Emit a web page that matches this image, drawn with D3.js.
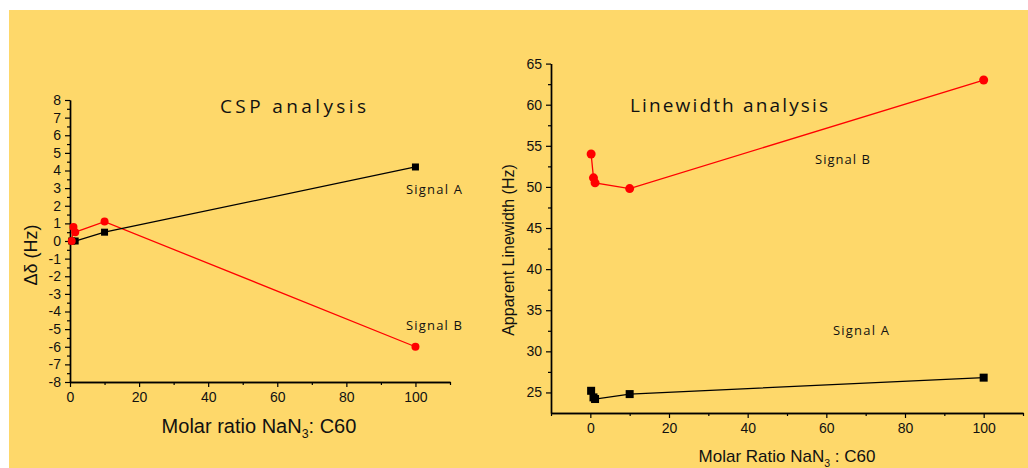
<!DOCTYPE html>
<html>
<head>
<meta charset="utf-8">
<script src="https://cdn.jsdelivr.net/npm/d3@7"></script>
<style>
  body { margin: 0; background: #fff; }
  text { font-family: "Liberation Sans", Arial, sans-serif; fill: #111; }
  .note { font-family: "Open Sans", "DejaVu Sans", sans-serif; }
</style>
</head>
<body>
<div id="visualization"></div>
<script>
// ---- data ----
// left panel: chemical shift perturbation
var cspRatioA = [0.5, 1.5, 10, 100];
var cspSignalA = [0, 0, 0.5, 4.2];
var cspRatioB = [0.5, 1, 1.5, 10, 100];
var cspSignalB = [0, 0.8, 0.5, 1.1, -6];
var cspYTicks = d3.range(-8, 9, 1);
var cspXTicks = [0, 20, 40, 60, 80, 100];

// right panel: linewidth
var lwRatioA = [0.2, 0.8, 1.2, 10, 100];
var lwSignalA = [25.2, 24.4, 24.2, 24.8, 26.8];
var lwRatioB = [0.2, 0.8, 1.2, 10, 100];
var lwSignalB = [54.0, 51.1, 50.5, 49.8, 63.0];
var lwYTicks = [25, 30, 35, 40, 45, 50, 55, 60, 65];
var lwXTicks = [0, 20, 40, 60, 80, 100];

var width = 1028, height = 468;

var svg = d3.select("#visualization")
            .append("svg")
            .attr("width", width)
            .attr("height", height);

// yellow panel behind both charts
svg.append("rect")
   .attr("x", 9).attr("y", 10)
   .attr("width", width - 9).attr("height", height - 10)
   .attr("fill", "#FED86A");

function zip(xs, ys) {
   return xs.map(function(v, i) { return { x: v, y: ys[i] }; });
}

// plain hyphen for negatives, like the original
var plain = function(d) { return String(d); };

// draws one panel
function drawPanel(opt) {
   var x = d3.scaleLinear().domain(opt.xDomain).range(opt.xRange);
   var y = d3.scaleLinear().domain(opt.yDomain).range(opt.yRange);
   var g = svg.append("g");
   var bottom = opt.yRange[0], left = opt.xRange[0];

   // minor ticks first
   g.append("g")
    .attr("transform", "translate(0," + bottom + ")")
    .call(d3.axisBottom(x).tickValues(opt.xMinor).tickSize(3).tickSizeOuter(0).tickFormat(""));
   g.append("g")
    .attr("transform", "translate(" + left + ",0)")
    .call(d3.axisLeft(y).tickValues(opt.yMinor).tickSize(3).tickSizeOuter(0).tickFormat(""));

   // major ticks with labels
   g.append("g")
    .attr("transform", "translate(0," + bottom + ")")
    .call(d3.axisBottom(x).tickValues(opt.xTicks).tickSize(5).tickSizeOuter(0).tickPadding(5).tickFormat(plain))
    .selectAll("text").style("font-size", "14px");
   g.append("g")
    .attr("transform", "translate(" + left + ",0)")
    .call(d3.axisLeft(y).tickValues(opt.yTicks).tickSize(5).tickSizeOuter(0).tickPadding(4).tickFormat(plain))
    .selectAll("text").style("font-size", "14px");

   g.selectAll(".domain").attr("stroke", "#000").attr("stroke-width", 1.4);
   g.selectAll(".tick line").attr("stroke", "#000").attr("stroke-width", 1.2);
   g.selectAll(".tick text").attr("fill", "#111");

   var line = d3.line().x(function(d) { return x(d.x); }).y(function(d) { return y(d.y); });

   // signal B (red circles)
   var b = zip(opt.bX, opt.bY);
   g.append("path").datum(b).attr("d", line)
    .attr("fill", "none").attr("stroke", "#FF0000").attr("stroke-width", 1.3);

   // signal A (black squares)
   var a = zip(opt.aX, opt.aY);
   g.append("path").datum(a).attr("d", line)
    .attr("fill", "none").attr("stroke", "#000").attr("stroke-width", 1.3);
   g.selectAll(".sq").data(a).join("rect")
    .attr("x", function(d) { return x(d.x) - opt.sq / 2; })
    .attr("y", function(d) { return y(d.y) - opt.sq / 2; })
    .attr("width", opt.sq).attr("height", opt.sq)
    .attr("fill", "#000");

   g.selectAll(".dot").data(b).join("circle")
    .attr("cx", function(d) { return x(d.x); })
    .attr("cy", function(d) { return y(d.y); })
    .attr("r", opt.r)
    .attr("fill", "#FF0000");

   // title
   g.append("text").attr("class", "note")
    .attr("x", opt.title.x).attr("y", opt.title.y)
    .attr("textLength", opt.title.w).attr("lengthAdjust", "spacing")
    .style("font-size", "19px")
    .text(opt.title.text);

   // signal labels
   opt.notes.forEach(function(n) {
      g.append("text").attr("class", "note")
       .attr("x", n.x).attr("y", n.y)
       .attr("textLength", n.w).attr("lengthAdjust", "spacing")
       .style("font-size", "13px")
       .text(n.text);
   });

   // y-axis label
   g.append("text")
    .attr("transform", "translate(" + opt.yLabel.x + "," + opt.yLabel.y + ") rotate(-90)")
    .attr("text-anchor", "middle")
    .style("font-size", opt.yLabel.size + "px")
    .text(opt.yLabel.text);

   // x-axis label with subscript 3
   var xl = g.append("text")
    .attr("x", opt.xLabel.x).attr("y", opt.xLabel.y)
    .attr("text-anchor", "middle")
    .style("font-size", opt.xLabel.size + "px");
   xl.append("tspan").text(opt.xLabel.pre);
   xl.append("tspan").attr("dy", 5).style("font-size", (opt.xLabel.size * 0.62) + "px").text("3");
   xl.append("tspan").attr("dy", -5).text(opt.xLabel.post);
}

drawPanel({
   xDomain: [0, 110], xRange: [70, 450],
   yDomain: [-8, 8], yRange: [382, 100],
   xTicks: cspXTicks, xMinor: [10, 30, 50, 70, 90, 110],
   yTicks: cspYTicks, yMinor: d3.range(-7.5, 8, 1),
   aX: cspRatioA, aY: cspSignalA, bX: cspRatioB, bY: cspSignalB,
   sq: 7, r: 4,
   title: { text: "CSP  analysis", x: 220, y: 113, w: 146 },
   notes: [{ text: "Signal A", x: 406, y: 194, w: 56 },
           { text: "Signal B", x: 406, y: 330, w: 56 }],
   yLabel: { text: "\u0394\u03b4 (Hz)", x: 37, y: 255, size: 18 },
   xLabel: { pre: "Molar ratio NaN", post: ": C60", x: 259, y: 433, size: 20 }
});

drawPanel({
   xDomain: [-10, 110], xRange: [551, 1023],
   yDomain: [22.5, 65], yRange: [413, 63.6],
   xTicks: lwXTicks, xMinor: [-10, 10, 30, 50, 70, 90, 110],
   yTicks: lwYTicks, yMinor: d3.range(27.5, 65, 5),
   aX: lwRatioA, aY: lwSignalA, bX: lwRatioB, bY: lwSignalB,
   sq: 8, r: 4.5,
   title: { text: "Linewidth  analysis", x: 630, y: 112, w: 198 },
   notes: [{ text: "Signal B", x: 815, y: 164, w: 55 },
           { text: "Signal A", x: 833, y: 335, w: 56 }],
   yLabel: { text: "Apparent Linewidth (Hz)", x: 514, y: 250, size: 16 },
   xLabel: { pre: "Molar Ratio NaN", post: " : C60", x: 787, y: 462, size: 17 }
});
</script>
</body>
</html>
